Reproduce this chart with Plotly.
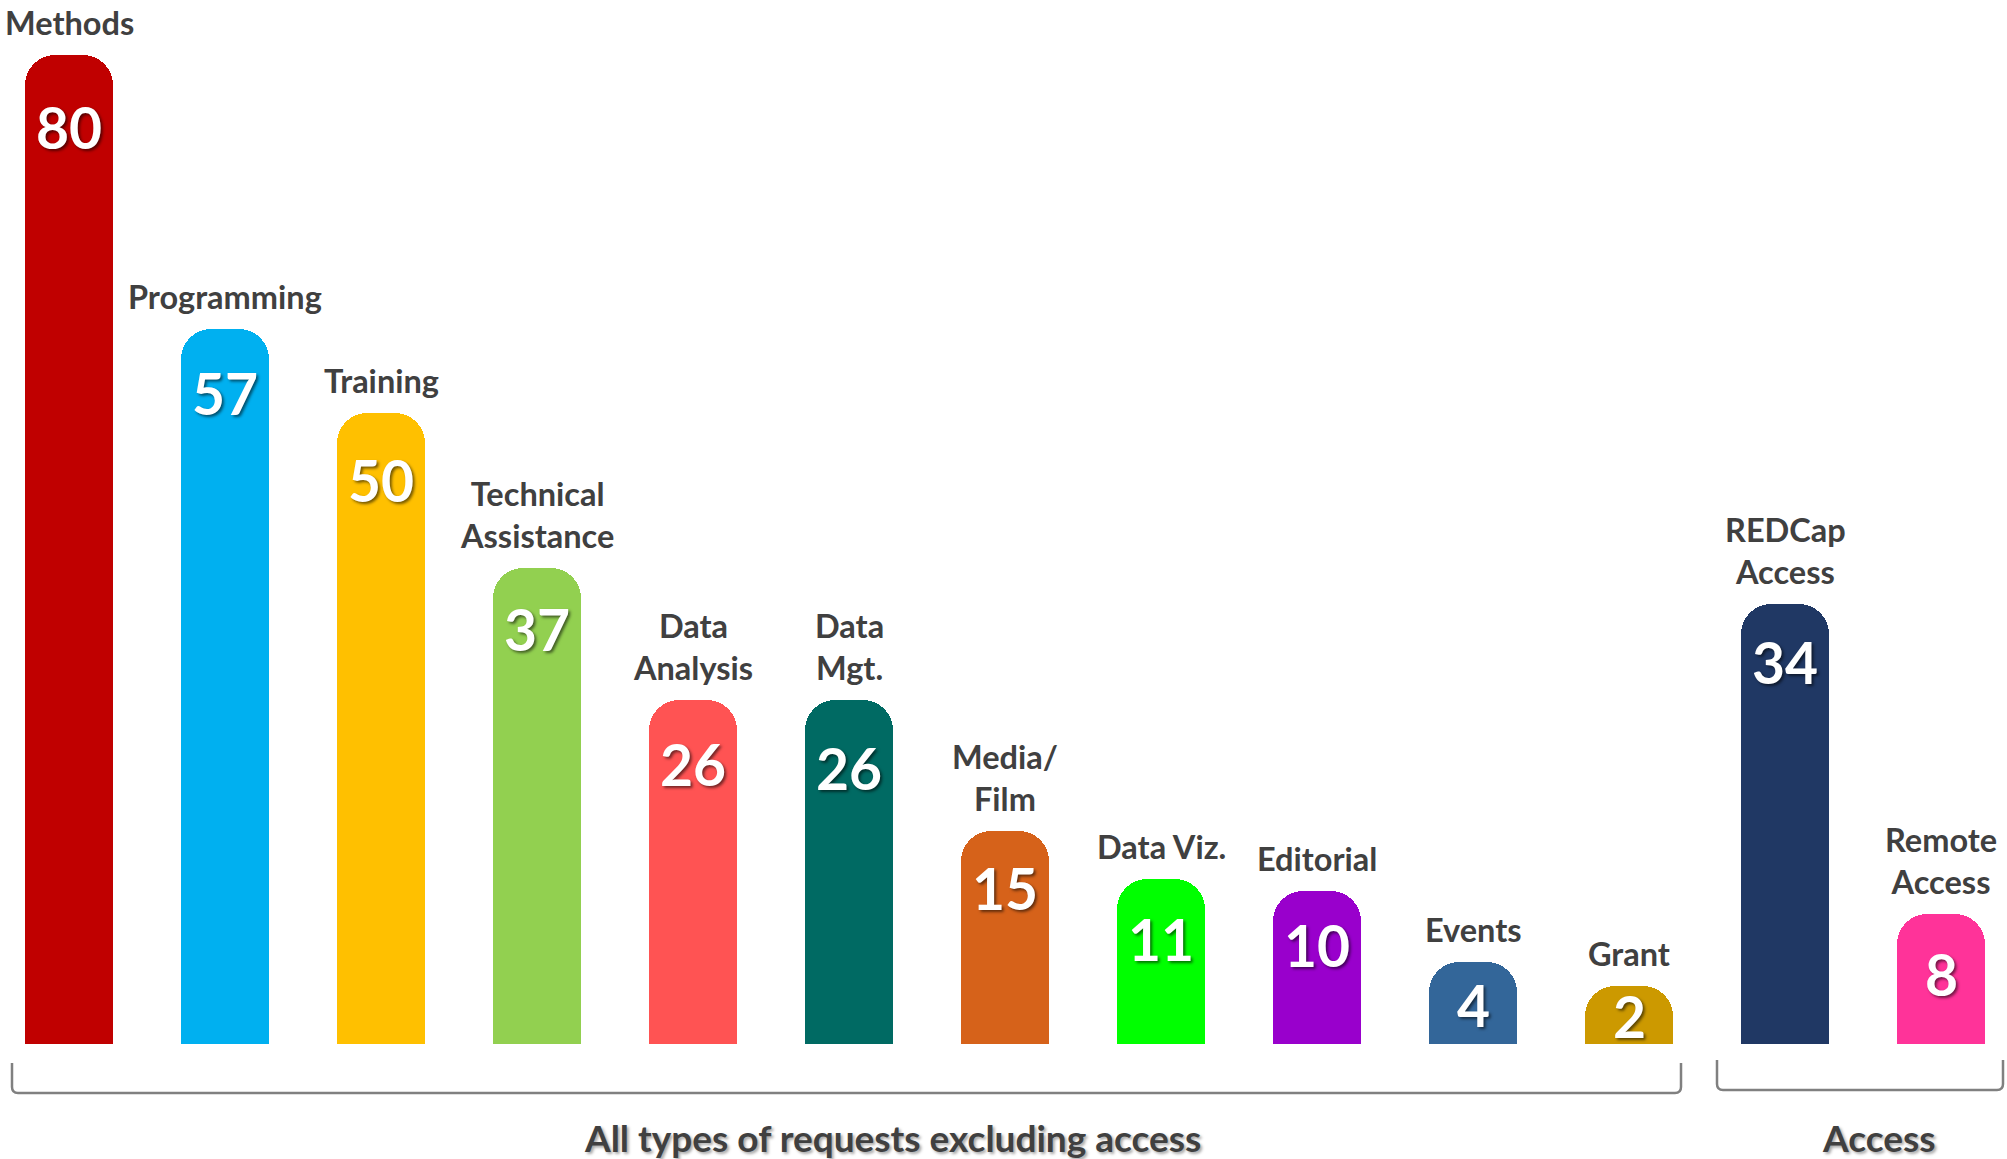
import plotly.graph_objects as go

# ---- data ----
categories = ["Methods", "Programming", "Training", "Technical Assistance", "Data Analysis",
              "Data Mgt.", "Media/Film", "Data Viz.", "Editorial", "Events", "Grant",
              "REDCap Access", "Remote Access"]
label_text = ["Methods", "Programming", "Training", "Technical<br>Assistance", "Data<br>Analysis",
              "Data<br>Mgt.", "Media/<br>Film", "Data Viz.", "Editorial", "Events", "Grant",
              "REDCap<br>Access", "Remote<br>Access"]
values = [80, 57, 50, 37, 26, 26, 15, 11, 10, 4, 2, 34, 8]
colors = ["#C00000", "#00B0F0", "#FFC000", "#92D050", "#FF5353", "#006A63", "#D6621A",
          "#00FF00", "#9900CC", "#336699", "#CC9900", "#203864", "#FF3399"]
group_labels = ["All types of requests excluding access", "Access"]

# ---- layout constants ----
W, H = 2007, 1159
OFF = 0                     # page body margin removed via post_script
PLOT_BOTTOM = 1044 - OFF    # figure pixel of bar bottoms
CAP = 2.85                  # rounded cap offset (data units)
HIDDEN = 6                  # bars extend below visible range (clipped)
PX_PER_UNIT = 11.94
Y_TOP = -CAP + PLOT_BOTTOM / PX_PER_UNIT
X0, DX = 69 - OFF, 156      # first bar centre & spacing in px
x_range = [-X0 / DX, (W - X0) / DX]
# how far (px) the value label centre sits below each bar top
VALUE_DROP = [72, 64, 67, 61, 64, 68, 57, 60, 54, 43, 30, 58, 60]

FONT = "Lato, 'Open Sans', sans-serif"
DARK = "#404040"

fig = go.Figure()
fig.add_trace(go.Bar(
    x=categories, y=[v + CAP + HIDDEN for v in values], base=[-CAP - HIDDEN] * len(values),
    marker=dict(color=colors, cornerradius=30, line=dict(width=0)),
    width=88 / DX, hoverinfo="skip", showlegend=False,
))

annotations = []
for cat, lab, v, drop in zip(categories, label_text, values, VALUE_DROP):
    annotations.append(dict(
        x=cat, y=v, xref="x", yref="y", text=f"<b>{v}</b>", showarrow=False,
        yanchor="middle", yshift=-drop,
        font=dict(family=FONT, size=57, color="white",
                  shadow="2px 2px 3px rgba(0,0,0,0.55)"),
    ))
    annotations.append(dict(
        x=cat, y=v, xref="x", yref="y", text=f"<b>{lab}</b>", showarrow=False,
        yanchor="bottom", yshift=11,
        font=dict(family=FONT, size=32.5, color=DARK),
    ))


def px_to_paper_x(px):
    return (px - OFF) / W


def px_to_paper_y(py):
    return (PLOT_BOTTOM - (py - OFF)) / PLOT_BOTTOM


brackets = [(12, 1681, 1063, 1093), (1717, 2003, 1060, 1090)]
label_x = [892, 1878]
for (xl, xr, yt, yb), lx, gl in zip(brackets, label_x, group_labels):
    r = 6
    path = (f"M {px_to_paper_x(xl)},{px_to_paper_y(yt)} "
            f"L {px_to_paper_x(xl)},{px_to_paper_y(yb - r)} "
            f"Q {px_to_paper_x(xl)},{px_to_paper_y(yb)} {px_to_paper_x(xl + r)},{px_to_paper_y(yb)} "
            f"L {px_to_paper_x(xr - r)},{px_to_paper_y(yb)} "
            f"Q {px_to_paper_x(xr)},{px_to_paper_y(yb)} {px_to_paper_x(xr)},{px_to_paper_y(yb - r)} "
            f"L {px_to_paper_x(xr)},{px_to_paper_y(yt)}")
    fig.add_shape(type="path", path=path, xref="paper", yref="paper",
                  line=dict(color="#808080", width=2.5))
    annotations.append(dict(
        x=px_to_paper_x(lx), y=px_to_paper_y(1137), xref="paper", yref="paper",
        text=f"<b>{gl}</b>", showarrow=False, xanchor="center", yanchor="middle",
        font=dict(family=FONT, size=37, color=DARK,
                  shadow="2px 2px 3px rgba(0,0,0,0.35)"),
    ))

fig.update_layout(
    width=W, height=H,
    margin=dict(l=0, r=0, t=0, b=H - PLOT_BOTTOM, pad=0),
    paper_bgcolor="white", plot_bgcolor="white",
    xaxis=dict(range=x_range, visible=False, showgrid=False, zeroline=False),
    yaxis=dict(range=[-CAP, Y_TOP], visible=False, showgrid=False, zeroline=False),
    annotations=annotations,
    bargap=0,
)

fig.write_html("out.html",
               config={"displayModeBar": False},
               post_script="document.body.style.margin='0';document.body.style.overflow='hidden';")
